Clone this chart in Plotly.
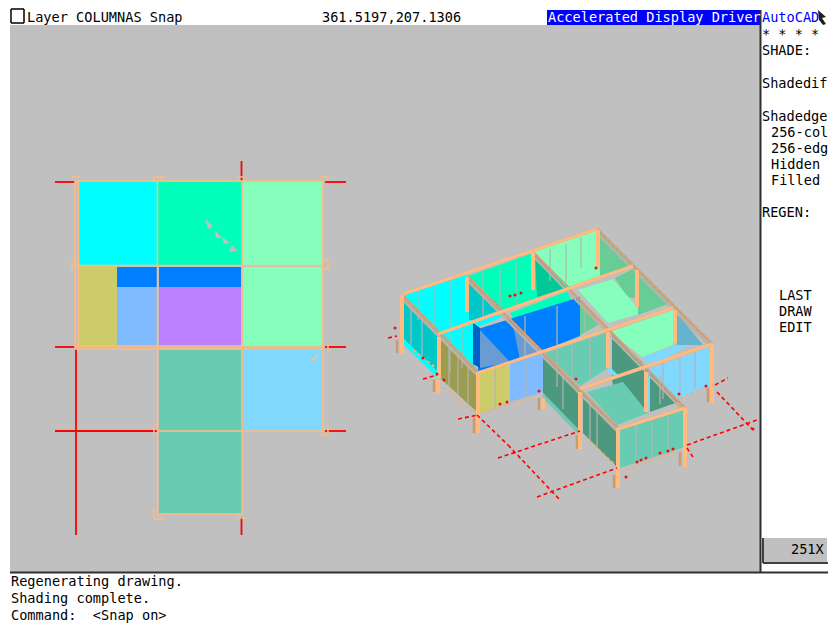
import plotly.graph_objects as go

PANEL_GREY = '#C0C0C0'
FONT = 'DejaVu Sans Mono'

plan_cells = [
    ('#00FFFF', [79, 157, 157, 79], [182, 182, 265, 265]),
    ('#00FFBB', [158, 242, 242, 158], [182, 182, 265, 265]),
    ('#85FFBB', [243, 322, 322, 243], [182, 182, 265, 265]),
    ('#85FFBB', [243, 322, 322, 243], [267, 267, 347, 347]),
    ('#CCCC6A', [79, 117, 117, 79], [266, 266, 348, 348]),
    ('#007FFF', [117, 157, 157, 117], [267, 267, 287, 287]),
    ('#007FFF', [159, 241, 241, 159], [267, 267, 287, 287]),
    ('#80BBFF', [117, 157, 157, 117], [287, 287, 346, 346]),
    ('#BB80FF', [159, 241, 241, 159], [287, 287, 346, 346]),
    ('#68CCB3', [159, 242, 242, 159], [350, 350, 431, 431]),
    ('#68CCB3', [159, 242, 242, 159], [431, 431, 514, 514]),
    ('#80D8FF', [244, 322, 322, 244], [350, 350, 431, 431]),
]
plan_cursor = [
    ([205, 213, 208], [219, 226, 229]),
    ([215, 222, 216], [230, 238, 238]),
    ([222, 230, 224], [237, 243, 244]),
    ([232, 237, 229], [245, 251, 252]),
]
plan_red = [
    (55, 182, 75, 182), (325, 182, 346, 182), (55, 347, 75, 347), (325, 347, 346, 347),
    (55, 431, 157, 431), (325, 431, 346, 431), (76, 349, 76, 535),
    (241.5, 161, 241.5, 181), (241.5, 517, 241.5, 535),
]
plan_orange = [
    (75, 181, 323, 181), (75, 181, 75, 349), (78.5, 181, 78.5, 349), (157.5, 181, 157.5, 514),
    (242, 181, 242, 514), (323, 181, 323, 431), (75, 265.5, 323, 265.5), (75, 346, 323, 346),
    (75, 349, 323, 349), (157, 431, 323, 431), (157, 514, 242, 514),
    (72, 177, 80, 177), (154, 181, 154, 177), (154, 177, 163, 177), (163, 177, 163, 181),
    (320, 177, 328, 177), (328, 177, 328, 181), (323, 260, 328, 260), (328, 260, 328, 269),
    (323, 269, 328, 269), (72, 260, 72, 270), (237, 177, 245, 177), (328, 343, 328, 352),
    (154, 425, 154, 435), (154, 425, 157, 425), (328, 425, 328, 435), (320, 435, 328, 435),
    (154, 508, 154, 519), (154, 519, 163, 519), (237, 518, 245, 518),
]
plan_dash = [(312, 361, 322, 351)]

# iso view, painted back to front
iso_faces = [
    ('#00FFFF', [403, 467, 500, 438], [295, 275, 310, 333]),
    ('#00C8C8', [469, 503, 473, 469], [278, 309, 320, 320]),
    ('#00FFBB', [468, 533, 570, 504], [276, 253, 287, 310]),
    ('#00C896', [535, 568, 537], [255, 288, 297]),
    ('#85FFBB', [533, 597, 630, 570], [252, 230, 265, 287]),
    ('#67CC96', [599, 632, 600], [232, 265, 276]),
    ('#00C8C8', [403, 438, 438, 403], [298, 333, 372, 338]),
    ('#00FFFF', [402, 438, 438, 402], [338, 372, 378, 343]),
    ('#00FFFF', [440, 505, 500, 475, 475, 440], [335, 312, 318, 328, 370, 375]),
    ('#00FFBB', [510, 568, 572, 515], [313, 291, 302, 322]),
    ('#007FFF', [478, 580, 580, 545, 510, 478], [329, 297, 336, 350, 362, 372]),
    ('#0060C8', [473, 480, 480, 473], [323, 328, 368, 364]),
    ('#6A9CD4', [480, 510, 480], [330, 362, 368]),
    ('#6A9CD4', [513, 543, 520], [325, 352, 360]),
    ('#67CC96', [580, 598, 598, 580], [300, 318, 325, 335]),
    ('#67CC96', [615, 635, 635, 627], [278, 268, 298, 297]),
    ('#85FFBB', [578, 613, 642, 608], [290, 279, 313, 323]),
    ('#67CC96', [638, 670, 638], [272, 303, 315]),
    ('#85FFBB', [610, 673, 673, 642], [332, 310, 345, 357]),
    ('#80D8FF', [642, 677, 690, 650], [357, 345, 344, 368]),
    ('#66B3CC', [677, 703, 677], [313, 345, 345]),
    ('#68CCB3', [545, 608, 608, 580], [353, 332, 368, 386]),
    ('#4C9980', [612, 642, 644, 612], [334, 362, 367, 378]),
    ('#80D8FF', [610, 645, 642, 607], [367, 402, 402, 370]),
    ('#4C9980', [543, 580, 580, 543], [354, 390, 431, 393]),
    ('#68CCB3', [543, 580, 580, 543], [393, 431, 436, 398]),
    ('#80D8FF', [648, 712, 712, 648], [370, 346, 386, 410]),
    ('#4C9980', [612, 648, 648, 620], [380, 368, 410, 420]),
    ('#68CCB3', [587, 623, 648, 617], [392, 382, 413, 425]),
    ('#4C9980', [650, 678, 650], [373, 402, 412]),
    ('#4C9980', [583, 617, 617, 583], [393, 430, 467, 433]),
    ('#68CCB3', [620, 685, 685, 620], [430, 408, 447, 468]),
    ('#9C9C50', [440, 477, 477, 440], [337, 372, 412, 378]),
    ('#CCCC6A', [480, 510, 510, 480], [373, 363, 402, 413]),
    ('#80BBFF', [510, 543, 543, 510], [363, 352, 392, 402]),
]
iso_mullions = [
    (418, 290, 418, 320), (435, 285, 435, 326), (451, 280, 451, 328),
    (483, 272, 483, 320), (500, 267, 500, 308), (516, 262, 516, 308),
    (550, 249, 550, 281), (566, 244, 566, 283), (581, 237, 581, 268),
    (610, 240, 610, 254), (620, 250, 620, 260), (626, 255, 626, 264),
    (411, 306, 411, 345), (422, 317, 422, 356),
    (450, 333, 450, 372), (462, 329, 462, 368), (525, 316, 525, 358), (557, 306, 557, 345),
    (449, 347, 449, 386), (458, 356, 458, 395), (468, 364, 468, 403),
    (495, 369, 495, 407), (526, 359, 526, 397),
    (557, 346, 557, 387), (572, 341, 572, 381), (590, 336, 590, 377),
    (563, 373, 563, 409), (590, 400, 590, 440), (597, 407, 597, 448),
    (636, 425, 636, 462), (652, 420, 652, 457), (668, 415, 668, 451),
    (663, 363, 663, 399), (680, 357, 680, 394), (695, 352, 695, 389),
    (585, 303, 585, 331), (660, 376, 660, 404),
]
iso_shadow = [
    (402, 299, 478, 376), (468, 281, 618, 432), (533, 256, 685, 412), (597, 233, 712, 348),
]
iso_beams_v = [
    (402, 295, 478, 372), (468, 277, 618, 428), (533, 252, 685, 408), (597, 229, 712, 344),
]
iso_beams_u = [
    (403, 294, 597, 229), (438, 334, 633, 266), (478, 373, 673, 308),
    (580, 389, 712, 344), (618, 429, 685, 408),
]
iso_posts = [
    (402, 295, 402, 353), (467, 277, 467, 312), (533, 252, 533, 290), (598, 230, 598, 268),
    (439, 337, 439, 378), (637, 270, 637, 307), (478, 372, 478, 433), (675, 310, 675, 343),
    (608, 332, 608, 368), (580, 392, 580, 450), (646, 372, 646, 412), (618, 428, 618, 488),
    (685, 408, 685, 467), (712, 345, 712, 403), (438, 380, 438, 393), (543, 398, 543, 410),
]
iso_post_shade = [
    (397, 340, 397, 353), (434, 380, 434, 392), (474, 418, 474, 433), (539, 398, 539, 410),
    (577, 435, 577, 449), (614, 475, 614, 488), (680, 452, 680, 466), (708, 388, 708, 402),
]
iso_floor_dash = [
    (482, 413, 537, 395), (627, 470, 677, 450), (680, 398, 707, 387),
    (443, 387, 475, 413), (585, 437, 615, 465), (413, 350, 435, 367),
]
iso_red_dash = [
    (458, 419, 478, 415), (477, 415, 508, 445), (508, 445, 560, 500), (498, 458, 580, 431),
    (537, 497, 617, 468), (687, 445, 757, 420), (715, 385, 728, 378), (717, 392, 753, 430),
    (687, 448, 693, 457), (388, 338, 397, 336), (423, 379, 437, 375),
]
iso_red_x = [510, 515, 521, 423, 437, 444, 500, 507, 539, 576, 596, 679, 706,
             637, 641, 646, 660, 668, 673, 753, 626, 395]
iso_red_y = [296, 295, 293, 358, 374, 380, 404, 402, 391, 379, 268, 394, 386,
             462, 460, 458, 453, 451, 449, 429, 477, 328]

top_labels = ['Layer COLUMNAS Snap', '361.5197,207.1306', 'SHADE:', 'Shadedif', 'Shadedge',
              '256-col', '256-edg', 'Hidden', 'Filled', 'REGEN:', 'LAST', 'DRAW', 'EDIT', '251X',
              'Regenerating drawing.', 'Shading complete.', 'Command:  <Snap on>', '* * * *']
top_labels_x = [27, 322, 762, 762, 762, 771, 771, 771, 771, 762, 779, 779, 779, 791, 11, 11, 11, 762]
top_labels_y = [19, 19, 52, 85, 118, 134, 150, 166, 182, 214, 297, 313, 329, 551, 583, 600, 617, 36]

fig = go.Figure()


def add_poly(xs, ys, color):
    fig.add_trace(go.Scatter(x=list(xs) + [xs[0]], y=list(ys) + [ys[0]], mode='lines', fill='toself',
                             fillcolor=color, line=dict(width=0, color=color), hoverinfo='skip'))


def add_segments(segments, color, width, dash='solid'):
    xs, ys = [], []
    for x0, y0, x1, y1 in segments:
        xs += [x0, x1, None]
        ys += [y0, y1, None]
    fig.add_trace(go.Scatter(x=xs, y=ys, mode='lines', hoverinfo='skip',
                             line=dict(color=color, width=width, dash=dash)))


# screen furniture
add_poly([10, 760, 760, 10], [25, 25, 572, 572], PANEL_GREY)
add_poly([547, 760, 760, 547], [10, 10, 25, 25], '#0000FF')
add_poly([763, 827, 827, 763], [538, 538, 562, 562], PANEL_GREY)
add_segments([(10, 572.5, 828, 572.5), (760.5, 10, 760.5, 572)], '#303030', 2)
add_segments([(763, 538, 763, 563), (763, 563, 828, 563)], '#404040', 2)
add_segments([(11, 9, 24, 9), (24, 9, 24, 23), (24, 23, 11, 23), (11, 23, 11, 9)], '#000000', 1.5)
add_poly([818, 826, 822, 826, 823, 819], [10, 17, 18, 24, 25, 20], '#202020')

# plan view
for color, xs, ys in plan_cells:
    add_poly(xs, ys, color)
for xs, ys in plan_cursor:
    add_poly(xs, ys, PANEL_GREY)
add_segments(plan_red, '#FF0000', 1.8)
add_segments(plan_orange, '#FFBB80', 1.5)
add_segments(plan_dash, '#FFBB80', 2, 'dash')

# iso view
for color, xs, ys in iso_faces:
    add_poly(xs, ys, color)
add_segments(iso_mullions, '#B4B4B4', 1.2)
add_segments(iso_shadow, '#BDB2A6', 2.5)
add_segments(iso_beams_v, '#C8A080', 2.5)
add_segments(iso_beams_v, '#E0A070', 1.5, 'dot')
add_segments(iso_beams_u, '#B8B0A8', 3)
add_segments(iso_beams_u, '#FFBB80', 3)
add_segments(iso_post_shade, '#C89A70', 2.5)
add_segments(iso_posts, '#FFBB80', 4)
add_segments(iso_floor_dash, '#E8B080', 2, 'dot')
add_segments(iso_red_dash, '#FF0000', 1.6, '4px,3px')
fig.add_trace(go.Scatter(x=iso_red_x, y=iso_red_y, mode='markers', hoverinfo='skip',
                         marker=dict(color='#E81010', size=3)))

# text
fig.add_trace(go.Scatter(x=top_labels_x, y=top_labels_y, text=top_labels, mode='text', textposition='middle right',
                         textfont=dict(family=FONT, size=13.6, color='#000000'), hoverinfo='skip'))
fig.add_trace(go.Scatter(x=[548], y=[19], text=['Accelerated Display Driver'], mode='text', textposition='middle right',
                         textfont=dict(family=FONT, size=13.6, color='#FFFFFF'), hoverinfo='skip'))
fig.add_trace(go.Scatter(x=[762], y=[19], text=['AutoCAD'], mode='text', textposition='middle right',
                         textfont=dict(family=FONT, size=13.6, color='#0000FF'), hoverinfo='skip'))

fig.update_layout(width=828, height=623, margin=dict(l=0, r=0, t=0, b=0), showlegend=False,
                  paper_bgcolor='#FFFFFF', plot_bgcolor='#FFFFFF',
                  xaxis=dict(range=[0, 828], visible=False, fixedrange=True),
                  yaxis=dict(range=[623, 0], visible=False, fixedrange=True))
fig.write_html('out.html', config=dict(displayModeBar=False),
               post_script="document.body.style.margin='0';document.body.style.overflow='hidden';")
